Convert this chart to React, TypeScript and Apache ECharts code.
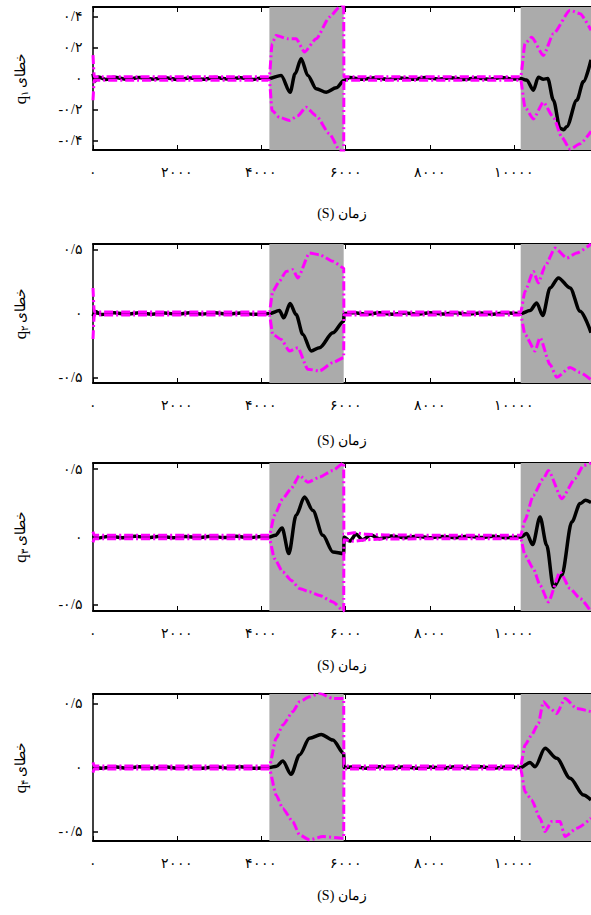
import React, { useEffect, useRef } from "react";
import * as echarts from "echarts";

// ---------- data ----------
const X_MAX = 11830;
const xTicks = [0, 2000, 4000, 6000, 8000, 10000];
const xTickLabels = ["۰", "۲۰۰۰", "۴۰۰۰", "۶۰۰۰", "۸۰۰۰", "۱۰۰۰۰"];
const xName = "(S) زمان";

const grayRegions: [number, number][] = [
  [4190, 5955],
  [10160, 11830],
];

const yTicks1 = [-0.4, -0.2, 0, 0.2, 0.4];
const yTickLabels1 = ["-۰/۴", "-۰/۲", "۰", "۰/۲", "۰/۴"];
const yTicks2 = [-0.5, 0, 0.5];
const yTickLabels2 = ["-۰/۵", "۰", "۰/۵"];

const panelSubs = ["۱", "۲", "۳", "۴"];

// q1
const q1Err: [number, number][] = [
  [0, 0.03], [40, -0.02], [120, 0.01], [300, -0.006], [500, 0.008], [800, -0.005], [1100, 0.006],
  [1400, -0.004], [1700, 0.005], [2000, -0.006], [2300, 0.004], [2600, -0.005], [2900, 0.006],
  [3200, -0.004], [3500, 0.005], [3800, -0.006], [4000, 0.004], [4190, 0],
  [4468, 0.02], [4683, -0.088], [4800, 0.03], [4944, 0.127], [5103, 0.02], [5302, -0.066],
  [5540, -0.088], [5778, -0.06], [5960, -0.013],
  [6100, 0.006], [6400, -0.005], [6700, 0.005], [7000, -0.006], [7300, 0.004], [7600, -0.005],
  [7900, 0.006], [8200, -0.004], [8500, 0.005], [8800, -0.006], [9100, 0.004], [9400, -0.005],
  [9700, 0.006], [10000, -0.004], [10160, 0],
  [10302, -0.01], [10460, -0.075], [10579, 0.008], [10698, -0.005], [10802, 0], [10937, -0.14],
  [11095, -0.32], [11180, -0.33], [11254, -0.31], [11492, -0.14], [11650, -0.02], [11830, 0.12],
];
const q1Up: [number, number][] = [
  [0, 0.15], [30, 0.012], [4190, 0.012], [4254, 0.224], [4349, 0.277], [4627, 0.256], [4825, 0.256],
  [5024, 0.17], [5302, 0.256], [5619, 0.395], [5857, 0.46], [5955, 0.48], [5960, 0.012],
  [10160, 0.012], [10262, 0.224], [10421, 0.266], [10698, 0.148], [10937, 0.288], [11333, 0.439],
  [11571, 0.417], [11830, 0.31],
];
const q1Lo: [number, number][] = [
  [0, -0.14], [30, -0.012], [4190, -0.012], [4254, -0.206], [4429, -0.25], [4667, -0.27],
  [4865, -0.24], [5063, -0.185], [5302, -0.24], [5619, -0.357], [5857, -0.46], [5955, -0.48],
  [5960, -0.012], [10160, -0.012], [10262, -0.185], [10460, -0.26], [10698, -0.153], [10937, -0.25],
  [11135, -0.378], [11333, -0.454], [11571, -0.42], [11830, -0.34],
];

// q2
const q2Err: [number, number][] = [
  [0, -0.02], [60, 0.015], [200, -0.008], [500, 0.006], [800, -0.005], [1100, 0.006], [1400, -0.005],
  [1700, 0.004], [2000, -0.006], [2300, 0.005], [2600, -0.004], [2900, 0.006], [3200, -0.005],
  [3500, 0.004], [3800, -0.006], [4190, 0],
  [4429, 0.023], [4532, -0.034], [4683, 0.078], [4825, -0.008], [4984, -0.164], [5183, -0.294],
  [5381, -0.268], [5698, -0.151], [5955, -0.06], [5965, 0],
  [6200, 0.006], [6500, -0.005], [6800, 0.005], [7100, -0.006], [7400, 0.004], [7700, -0.005],
  [8000, 0.006], [8300, -0.004], [8600, 0.005], [8900, -0.006], [9200, 0.004], [9500, -0.005],
  [9800, 0.005], [10160, 0],
  [10381, 0.023], [10540, 0.083], [10683, -0.016], [10857, 0.2], [11056, 0.279], [11333, 0.2],
  [11571, 0.018], [11830, -0.15],
];
const q2Up: [number, number][] = [
  [0, 0.2], [30, 0.012], [4190, 0.012], [4270, 0.174], [4429, 0.253], [4587, 0.33], [4746, 0.344],
  [4865, 0.279], [5143, 0.474], [5381, 0.461], [5698, 0.409], [5955, 0.357], [5960, 0.012],
  [10160, 0.012], [10262, 0.174], [10460, 0.33], [10579, 0.24], [10738, 0.37], [10976, 0.513],
  [11254, 0.435], [11492, 0.474], [11830, 0.545],
];
const q2Lo: [number, number][] = [
  [0, -0.2], [30, -0.012], [4190, -0.012], [4270, -0.164], [4468, -0.203], [4667, -0.294],
  [4865, -0.268], [5103, -0.437], [5381, -0.45], [5698, -0.385], [5955, -0.346], [5960, -0.012],
  [10160, -0.012], [10262, -0.164], [10500, -0.294], [10619, -0.19], [10857, -0.4], [11016, -0.5],
  [11333, -0.424], [11571, -0.463], [11830, -0.52],
];

// q3
const q3Err: [number, number][] = [
  [0, 0.01], [100, -0.008], [400, 0.006], [700, -0.005], [1000, 0.006], [1300, -0.004], [1600, 0.005],
  [1900, -0.006], [2200, 0.004], [2500, -0.005], [2800, 0.006], [3100, -0.004], [3400, 0.005],
  [3700, -0.006], [4000, 0.004], [4190, 0],
  [4330, 0.012], [4492, 0.066], [4651, -0.122], [4825, 0.16], [5024, 0.294], [5222, 0.196],
  [5460, 0.012], [5698, -0.11], [5955, -0.122], [5965, 0], [6100, -0.03], [6250, 0.02],
  [6400, -0.02], [6600, 0.015], [6800, -0.012], [7100, 0.008], [7400, -0.006], [7700, 0.005],
  [8000, -0.006], [8300, 0.004], [8600, -0.005], [8900, 0.006], [9200, -0.004], [9500, 0.005],
  [9800, -0.005], [10160, 0],
  [10302, 0.025], [10444, -0.056], [10619, 0.147], [10778, -0.061], [10937, -0.368], [11135, -0.282],
  [11373, 0.11], [11571, 0.246], [11700, 0.27], [11830, 0.255],
];
const q3Up: [number, number][] = [
  [0, 0.04], [30, 0.012], [4190, 0.012], [4310, 0.16], [4508, 0.282], [4706, 0.356], [4905, 0.454],
  [5103, 0.404], [5381, 0.441], [5698, 0.49], [5955, 0.545], [5960, 0.02], [6200, 0.032],
  [6500, 0.02], [7000, 0.014], [10160, 0.012], [10262, 0.123], [10460, 0.307], [10698, 0.43],
  [10817, 0.49], [11135, 0.282], [11452, 0.43], [11651, 0.527], [11830, 0.545],
];
const q3Lo: [number, number][] = [
  [0, -0.04], [30, -0.012], [4190, -0.012], [4310, -0.159], [4508, -0.257], [4706, -0.318],
  [4905, -0.38], [5143, -0.404], [5381, -0.43], [5698, -0.478], [5955, -0.545], [5960, -0.02],
  [6200, -0.032], [6500, -0.02], [7000, -0.014], [10160, -0.012], [10262, -0.135], [10460, -0.232],
  [10619, -0.355], [10817, -0.478], [11095, -0.257], [11333, -0.38], [11571, -0.453], [11830, -0.55],
];

// q4
const q4Err: [number, number][] = [
  [0, 0.008], [200, -0.006], [500, 0.005], [800, -0.005], [1100, 0.006], [1400, -0.004], [1700, 0.005],
  [2000, -0.006], [2300, 0.004], [2600, -0.005], [2900, 0.006], [3200, -0.004], [3500, 0.005],
  [3800, -0.006], [4190, 0],
  [4360, 0.01], [4508, 0.05], [4706, -0.053], [4905, 0.098], [5143, 0.228], [5421, 0.259],
  [5698, 0.215], [5955, 0.11], [5965, 0],
  [6200, 0.005], [6500, -0.005], [6800, 0.006], [7100, -0.004], [7400, 0.005], [7700, -0.006],
  [8000, 0.004], [8300, -0.005], [8600, 0.006], [8900, -0.004], [9200, 0.005], [9500, -0.006],
  [9800, 0.004], [10160, 0],
  [10381, 0.04], [10500, 0.006], [10738, 0.15], [11016, 0.072], [11333, -0.084], [11651, -0.215],
  [11830, -0.254],
];
const q4Up: [number, number][] = [
  [0, 0.04], [30, 0.012], [4190, 0.012], [4349, 0.228], [4508, 0.332], [4746, 0.436], [4905, 0.514],
  [5143, 0.553], [5381, 0.58], [5698, 0.54], [5955, 0.54], [5960, 0.012], [10160, 0.012],
  [10262, 0.176], [10421, 0.254], [10579, 0.345], [10698, 0.514], [10857, 0.462], [11016, 0.423],
  [11214, 0.54], [11492, 0.462], [11830, 0.436],
];
const q4Lo: [number, number][] = [
  [0, -0.04], [30, -0.012], [4190, -0.012], [4349, -0.215], [4508, -0.32], [4746, -0.423],
  [4905, -0.527], [5143, -0.566], [5460, -0.54], [5955, -0.553], [5960, -0.012], [10160, -0.012],
  [10262, -0.189], [10421, -0.254], [10619, -0.397], [10738, -0.501], [10897, -0.423],
  [11095, -0.423], [11214, -0.54], [11492, -0.475], [11830, -0.397],
];

// ---------- layout ----------
const FONT = "'Liberation Serif', 'DejaVu Serif', serif";
const panels = [
  { top: 7, height: 143, yMin: -0.46, yMax: 0.46, yTicks: yTicks1, yLabels: yTickLabels1, err: q1Err, up: q1Up, lo: q1Lo, nameGap: 56 },
  { top: 244, height: 139, yMin: -0.545, yMax: 0.545, yTicks: yTicks2, yLabels: yTickLabels2, err: q2Err, up: q2Up, lo: q2Lo, nameGap: 50 },
  { top: 463, height: 148, yMin: -0.545, yMax: 0.545, yTicks: yTicks2, yLabels: yTickLabels2, err: q3Err, up: q3Up, lo: q3Lo, nameGap: 47 },
  { top: 694, height: 147, yMin: -0.575, yMax: 0.575, yTicks: yTicks2, yLabels: yTickLabels2, err: q4Err, up: q4Up, lo: q4Lo, nameGap: 47 },
];

function buildOption() {
  const grid: any[] = [];
  const xAxis: any[] = [];
  const yAxis: any[] = [];
  const series: any[] = [];
  panels.forEach((p, i) => {
    grid.push({ left: 93, width: 498, top: p.top, height: p.height, containLabel: false });
    const axisLineStyle = { color: "#000", width: 2 };
    xAxis.push({
      type: "value", gridIndex: i, position: "bottom", min: 0, max: X_MAX,
      axisLine: { show: true, onZero: false, lineStyle: axisLineStyle },
      axisTick: { show: true, inside: true, length: 5, customValues: xTicks, lineStyle: { color: "#000", width: 1 } },
      axisLabel: {
        show: true, customValues: xTicks, margin: 15, color: "#000", fontSize: 14, fontFamily: FONT,
        formatter: (v: number) => xTickLabels[xTicks.indexOf(v)] ?? "",
      },
      splitLine: { show: false },
      name: xName, nameLocation: "middle", nameGap: p.nameGap,
      nameTextStyle: { color: "#000", fontSize: 14, fontFamily: FONT },
    });
    xAxis.push({
      type: "value", gridIndex: i, position: "top", min: 0, max: X_MAX,
      axisLine: { show: true, onZero: false, lineStyle: axisLineStyle },
      axisTick: { show: true, inside: true, length: 5, customValues: xTicks, lineStyle: { color: "#000", width: 1 } },
      axisLabel: { show: false },
      splitLine: { show: false },
    });
    yAxis.push({
      type: "value", gridIndex: i, min: p.yMin, max: p.yMax,
      axisLine: { show: true, onZero: false, lineStyle: { color: "#000", width: 1.5 } },
      axisTick: { show: true, inside: true, length: 5, customValues: p.yTicks, lineStyle: { color: "#000", width: 1.5 } },
      axisLabel: {
        show: true, customValues: p.yTicks, margin: 10, color: "#000", fontSize: 14, fontFamily: FONT,
        formatter: (v: number) => {
          const k = p.yTicks.findIndex((t) => Math.abs(t - v) < 1e-9);
          return k >= 0 ? p.yLabels[k] : "";
        },
      },
      splitLine: { show: false },
      name: "{q|q}{s|" + panelSubs[i] + "}{sp| }{t|خطای}",
      nameLocation: "middle", nameRotate: 90, nameGap: 64,
      nameTextStyle: {
        color: "#000", fontFamily: FONT,
        rich: {
          q: { fontSize: 17, fontFamily: FONT, color: "#000" },
          s: { fontSize: 10, fontFamily: FONT, color: "#000", padding: [8, 0, 0, 0] },
          sp: { fontSize: 12, fontFamily: FONT },
          t: { fontSize: 14, fontFamily: FONT, color: "#000" },
        },
      },
    });
    // gray regions
    series.push({
      type: "line", xAxisIndex: 2 * i, yAxisIndex: i, data: [[0, 0]], z: 1,
      showSymbol: false, lineStyle: { opacity: 0 }, silent: true,
      markArea: {
        silent: true, itemStyle: { color: "#ababab", opacity: 1 },
        data: grayRegions.map((r) => [{ xAxis: r[0] }, { xAxis: r[1] }]),
      },
    });
    series.push({
      type: "line", xAxisIndex: 2 * i, yAxisIndex: i, data: p.err, z: 3,
      showSymbol: false, smooth: 0.3, smoothMonotone: "x",
      lineStyle: { color: "#000", width: 3.5 },
    });
    [p.up, p.lo].forEach((d) => {
      series.push({
        type: "line", xAxisIndex: 2 * i, yAxisIndex: i, data: d, z: 4,
        showSymbol: false, smooth: 0.2, smoothMonotone: "x",
        lineStyle: { color: "#ff00ff", width: 3, type: [9, 3, 2, 3] },
      });
    });
  });
  return { animation: false, backgroundColor: "#fff", grid, xAxis, yAxis, series };
}

export default function App() {
  const ref = useRef<HTMLDivElement>(null);
  useEffect(() => {
    if (!ref.current) return;
    const chart = echarts.init(ref.current, undefined, { renderer: "svg" });
    chart.setOption(buildOption() as any);
    return () => chart.dispose();
  }, []);
  return (
    <div
      ref={ref}
      style={{ position: "fixed", left: 0, top: 0, width: 591, height: 915, background: "#fff" }}
    />
  );
}
